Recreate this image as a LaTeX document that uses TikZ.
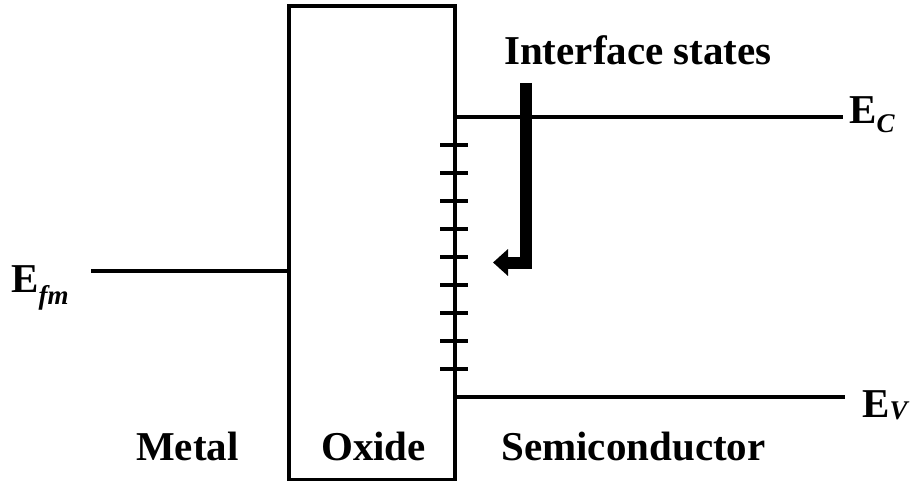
\documentclass[tikz,border=0pt]{standalone}
\usepackage{fontspec}
\setmainfont{Liberation Serif}
\usetikzlibrary{arrows.meta}
\begin{document}
\begin{tikzpicture}[x=1pt,y=-1pt,
  lbl/.style={font=\fontsize{41}{41}\selectfont\bfseries, inner sep=0pt, anchor=base},
  elbl/.style={font=\fontsize{41}{41}\selectfont\bfseries, inner sep=0pt, anchor=base west},
  thinline/.style={line width=4pt},
  tickline/.style={line width=4pt},
  bigarrow/.style={line width=12pt, line join=miter, -{Triangle[length=15pt,width=26pt]}}]
\useasboundingbox (0,0) rectangle (917,481);
% oxide box
\node[draw, thinline, minimum width=166pt, minimum height=474pt, inner sep=0pt, anchor=north west] (ox) at (287,4) {};
% band lines
\coordinate (ecL) at (453,117);
\coordinate (ecR) at (843,117);
\coordinate (evL) at (453,397);
\coordinate (evR) at (845,397);
\coordinate (efR) at (287,271);
\coordinate (efL) at (91,271);
\draw[thinline] (ecL) -- (ecR);
\draw[thinline] (evL) -- (evR);
\draw[thinline] (efL) -- (efR);
% interface state ticks
\foreach \k in {1,...,9}{
  \draw[tickline] (440,{117+28*\k}) -- (468,{117+28*\k});
}
% arrow
\coordinate (aS) at (526,83);
\coordinate (aC) at (526,262.5);
\coordinate (aT) at (493,262.5);
\draw[bigarrow] (aS) -- (aC) -- (aT);
% labels
\node[lbl] (is) at (638,65) {Interface states};
\node[lbl] (metal) at (187.5,460) {Metal};
\node[lbl] (oxide) at (373.5,460) {Oxide};
\node[lbl] (semi) at (633.5,460) {Semiconductor};
\node[elbl] (ec) at (849,124) {E\raisebox{-9pt}{\fontsize{27}{27}\selectfont\itshape C}};
\node[elbl] (ev) at (862,417) {E\raisebox{-2pt}{\fontsize{27}{27}\selectfont\itshape V}};
\node[elbl] (ef) at (11,292) {E\raisebox{-12pt}{\fontsize{27}{27}\selectfont\itshape fm}};
\end{tikzpicture}
\end{document}
